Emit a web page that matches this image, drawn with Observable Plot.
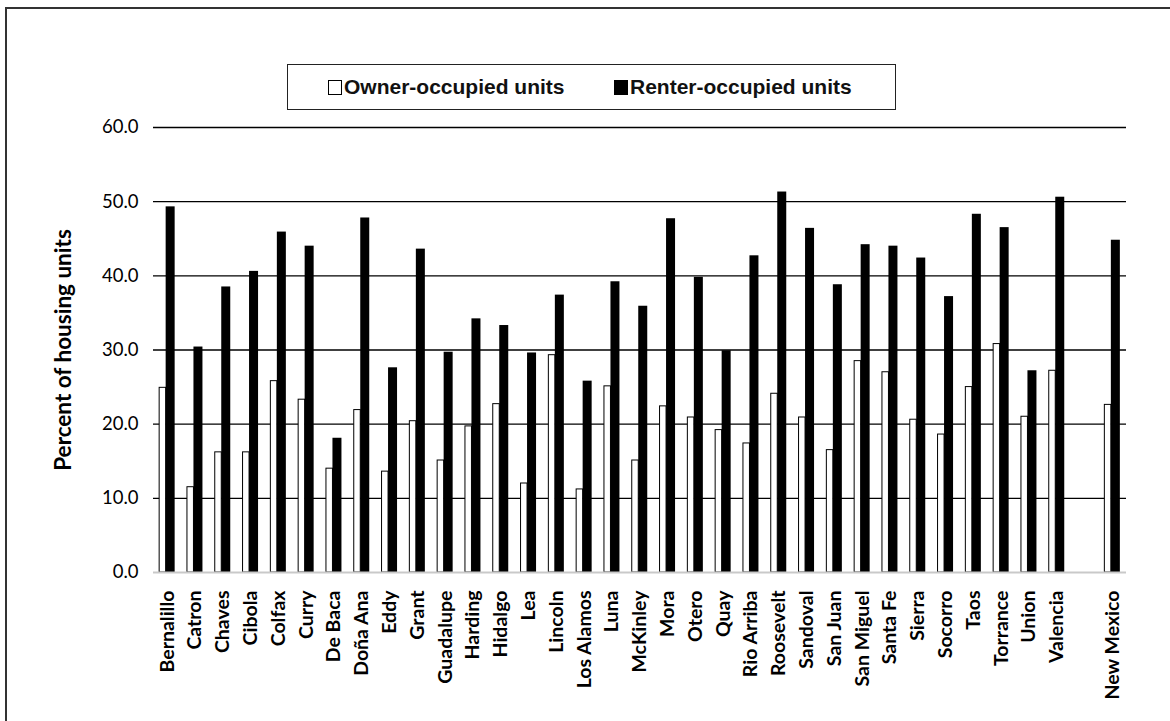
<!DOCTYPE html>
<html>
<head>
<meta charset="utf-8">
<script src="https://cdn.jsdelivr.net/npm/d3@7"></script>
<script src="https://cdn.jsdelivr.net/npm/@observablehq/plot@0.6"></script>
<style>
  body { margin: 0; background: #fff; }
  #frame { position: relative; width: 1170px; height: 721px; overflow: hidden; background: #fff; }
  #border { position: absolute; left: 5px; top: 7px; width: 1220px; height: 780px; border: 2px solid #333; box-sizing: border-box; }
  #chart { position: absolute; left: 0; top: 0; }
  #legend { position: absolute; left: 287px; top: 64px; width: 609px; height: 46px; border: 1.5px solid #222;
            box-sizing: border-box; background: #fff;
            font: bold 21px "Liberation Sans", Arial, sans-serif; color: #111; }
  .item { position: absolute; top: 0; height: 100%; display: flex; align-items: center; white-space: nowrap; }
  .sw { display: inline-block; width: 12px; height: 13px; border: 1px solid #000; margin-right: 2px; }
</style>
</head>
<body>
<div id="frame">
  <div id="border"></div>
  <div id="chart"></div>
  <div id="legend"></div>
</div>
<script>
// Housing units by tenure, New Mexico counties and state total (percent)
const counties = ["Bernalillo","Catron","Chaves","Cibola","Colfax","Curry","De Baca","Doña Ana","Eddy","Grant",
  "Guadalupe","Harding","Hidalgo","Lea","Lincoln","Los Alamos","Luna","McKinley","Mora","Otero","Quay",
  "Rio Arriba","Roosevelt","Sandoval","San Juan","San Miguel","Santa Fe","Sierra","Socorro","Taos","Torrance",
  "Union","Valencia","New Mexico"];
const ownerPct = [24.9,11.5,16.2,16.2,25.8,23.3,14.0,21.9,13.6,20.4,
  15.1,19.7,22.7,12.0,29.3,11.2,25.1,15.1,22.4,20.9,19.2,
  17.4,24.1,20.9,16.5,28.5,27.0,20.6,18.6,25.0,30.8,
  21.0,27.2,22.6];
const renterPct = [49.3,30.4,38.5,40.6,45.9,44.0,18.1,47.8,27.6,43.6,
  29.7,34.2,33.3,29.6,37.4,25.8,39.2,35.9,47.7,39.8,29.9,
  42.7,51.3,46.4,38.8,44.2,44.0,42.4,37.2,48.3,46.5,
  27.2,50.6,44.8];
const seriesNames = ["Owner-occupied units", "Renter-occupied units"];
const seriesFill = ["#ffffff", "#000000"];
const yTicks = [0, 10, 20, 30, 40, 50, 60];
const yTitle = "Percent of housing units";

// the state total sits apart from the counties, after one empty slot
const spacer = " ";
const xDomain = [...counties.slice(0, -1), spacer, counties[counties.length - 1]];

const rows = counties.map((name, i) => ({name, owner: ownerPct[i], renter: renterPct[i]}));

const width = 1170, height = 721;
const marginLeft = 153, marginRight = 44, marginTop = 127, marginBottom = 149;
const band = (width - marginLeft - marginRight) / xDomain.length;
const half = band / 2;
const groupHalf = 7.75;   // half of the paired-bar group
const renterW = 9;        // filled bar is a little wider than the outlined one

const chart = Plot.plot({
  width, height,
  marginLeft, marginRight, marginTop, marginBottom,
  style: {fontFamily: "Lato, sans-serif", color: "#000", background: "transparent", overflow: "visible"},
  x: {domain: xDomain, padding: 0, round: false, label: null},
  y: {domain: [0, 60], label: null},
  marks: [
    Plot.ruleY(yTicks.filter(d => d > 0), {stroke: "#000", strokeWidth: 1.4}),
    Plot.barY(rows, {x: "name", y: "owner", fill: seriesFill[0], stroke: "#000", strokeWidth: 1,
      insetLeft: half - groupHalf, insetRight: half - groupHalf + renterW}),
    Plot.barY(rows, {x: "name", y: "renter", fill: seriesFill[1],
      insetLeft: half + groupHalf - renterW, insetRight: half - groupHalf}),
    Plot.ruleY([0], {stroke: "#c9c9c9", strokeWidth: 2}),
    Plot.axisY({ticks: yTicks, tickFormat: d => d.toFixed(1), tickSize: 0, tickPadding: 15,
      fontSize: 18.5, label: null}),
    Plot.axisX({tickRotate: -90, tickSize: 0, tickPadding: 18, fontWeight: "bold", fontSize: 19.5, label: null}),
    Plot.text([yTitle], {text: d => d, frameAnchor: "left", textAnchor: "middle", dx: -90, rotate: -90,
      fontWeight: "bold", fontSize: 22.5})
  ]
});
document.getElementById("chart").appendChild(chart);

// legend
const legend = document.getElementById("legend");
const itemLeft = [40, 326];
seriesNames.forEach((name, i) => {
  const item = document.createElement("div");
  item.className = "item";
  item.style.left = itemLeft[i] + "px";
  const sw = document.createElement("span");
  sw.className = "sw";
  sw.style.background = seriesFill[i];
  item.appendChild(sw);
  item.appendChild(document.createTextNode(name));
  legend.appendChild(item);
});
</script>
</body>
</html>
